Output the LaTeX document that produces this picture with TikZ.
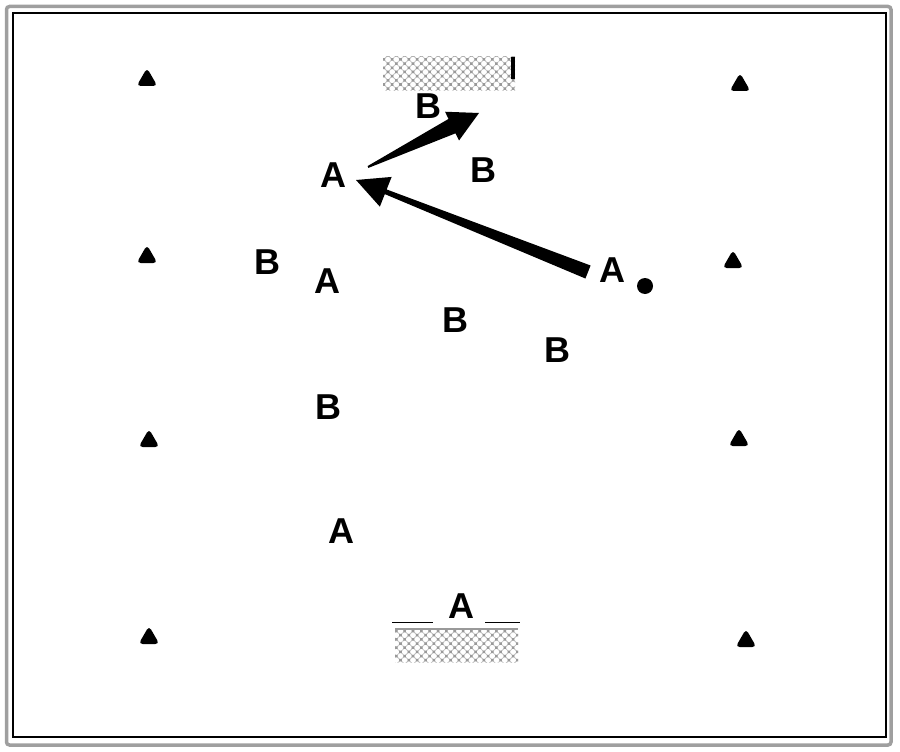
\documentclass[tikz,border=0pt]{standalone}
\usepackage{fontspec}
\setmainfont{Liberation Sans}
\usetikzlibrary{shapes.geometric}
\usetikzlibrary{patterns.meta}
\usetikzlibrary{calc}

\tikzset{player/.style = {font=\bfseries\fontsize{36}{36}\selectfont, inner sep=0pt},
         cone/.style = {regular polygon, regular polygon sides=3, fill=black,
                        inner sep=0pt, minimum size=24pt, rounded corners=4pt},
         goal/.style = {fill=gray!12,
                        pattern={Lines[angle=45, distance=5.9pt, line width=0.8pt]},
                        pattern color=gray!50},
         goalx/.style = {pattern={Lines[angle=-45, distance=5.9pt, line width=0.8pt]},
                         pattern color=gray!50},
         goaldots/.style = {pattern={Dots[angle=45, distance=5.9pt, radius=1.8pt]},
                            pattern color=gray!80}}

% tapered pass arrow: tail, tip, tail half width, neck half width, head half width, head length
\newcommand{\passarrow}[6]{%
  \coordinate (neck) at ($(#2)!#6!(#1)$);
  \fill ($(#1)!#3!90:(#2)$) -- ($(neck)!#4!-90:(#1)$) -- ($(neck)!#5!-90:(#1)$)
        -- (#2) -- ($(neck)!#5!90:(#1)$) -- ($(neck)!#4!90:(#1)$)
        -- ($(#1)!#3!-90:(#2)$) -- cycle;}

\begin{document}
\begin{tikzpicture}[x=1pt, y=-1pt]
    \useasboundingbox (0,0) rectangle (900,752);
    \draw[line width=3.5pt, gray!75, rounded corners=3pt] (6.5,6.5) rectangle (891,745);
    \draw[line width=1.2pt] (13,13) rectangle (886,737);

    % cones
    \foreach \x/\y [count=\i] in {147/80, 740/85, 147/257, 733/262,
                                  149/441, 739/440, 149/638, 746/641}
      \node[cone] (c\i) at (\x,\y) {};

    % goals
    \foreach \gx/\gy/\gw in {383/57/132, 395/628/123} {
      \path[goal] (\gx,\gy) rectangle ++(\gw,34);
      \path[goalx] (\gx,\gy) rectangle ++(\gw,34);
      \path[goaldots] (\gx,\gy) rectangle ++(\gw,34);
    }
    \fill (511,57) rectangle (515,79);
    \draw[gray!80, line width=2pt] (395,629) -- (518,629);
    \draw[line width=0.8pt] (392,622) -- (433,622);
    \draw[line width=0.8pt] (485,622) -- (520,622);

    % players
    \node[player] (b1) at (428,106) {B};
    \node[player] (b2) at (483,170) {B};
    \node[player] (a1) at (333,175) {A};
    \node[player] (b3) at (267,262) {B};
    \node[player] (a2) at (327,281) {A};
    \node[player] (a3) at (612,270) {A};
    \node[player] (b4) at (455,320) {B};
    \node[player] (b5) at (557,350) {B};
    \node[player] (b6) at (328,407) {B};
    \node[player] (a4) at (341,531) {A};
    \node[player] (a5) at (461,606) {A};

    \fill (645,286) circle (8);

    % passes
    \coordinate (p1) at (368,167);
    \coordinate (q1) at (479,113);
    \coordinate (p2) at (588,272);
    \coordinate (q2) at (356,180);
    \passarrow{p1}{q1}{1pt}{8pt}{16pt}{30pt}
    \passarrow{p2}{q2}{7pt}{2.5pt}{16pt}{32pt}
\end{tikzpicture}
\end{document}
